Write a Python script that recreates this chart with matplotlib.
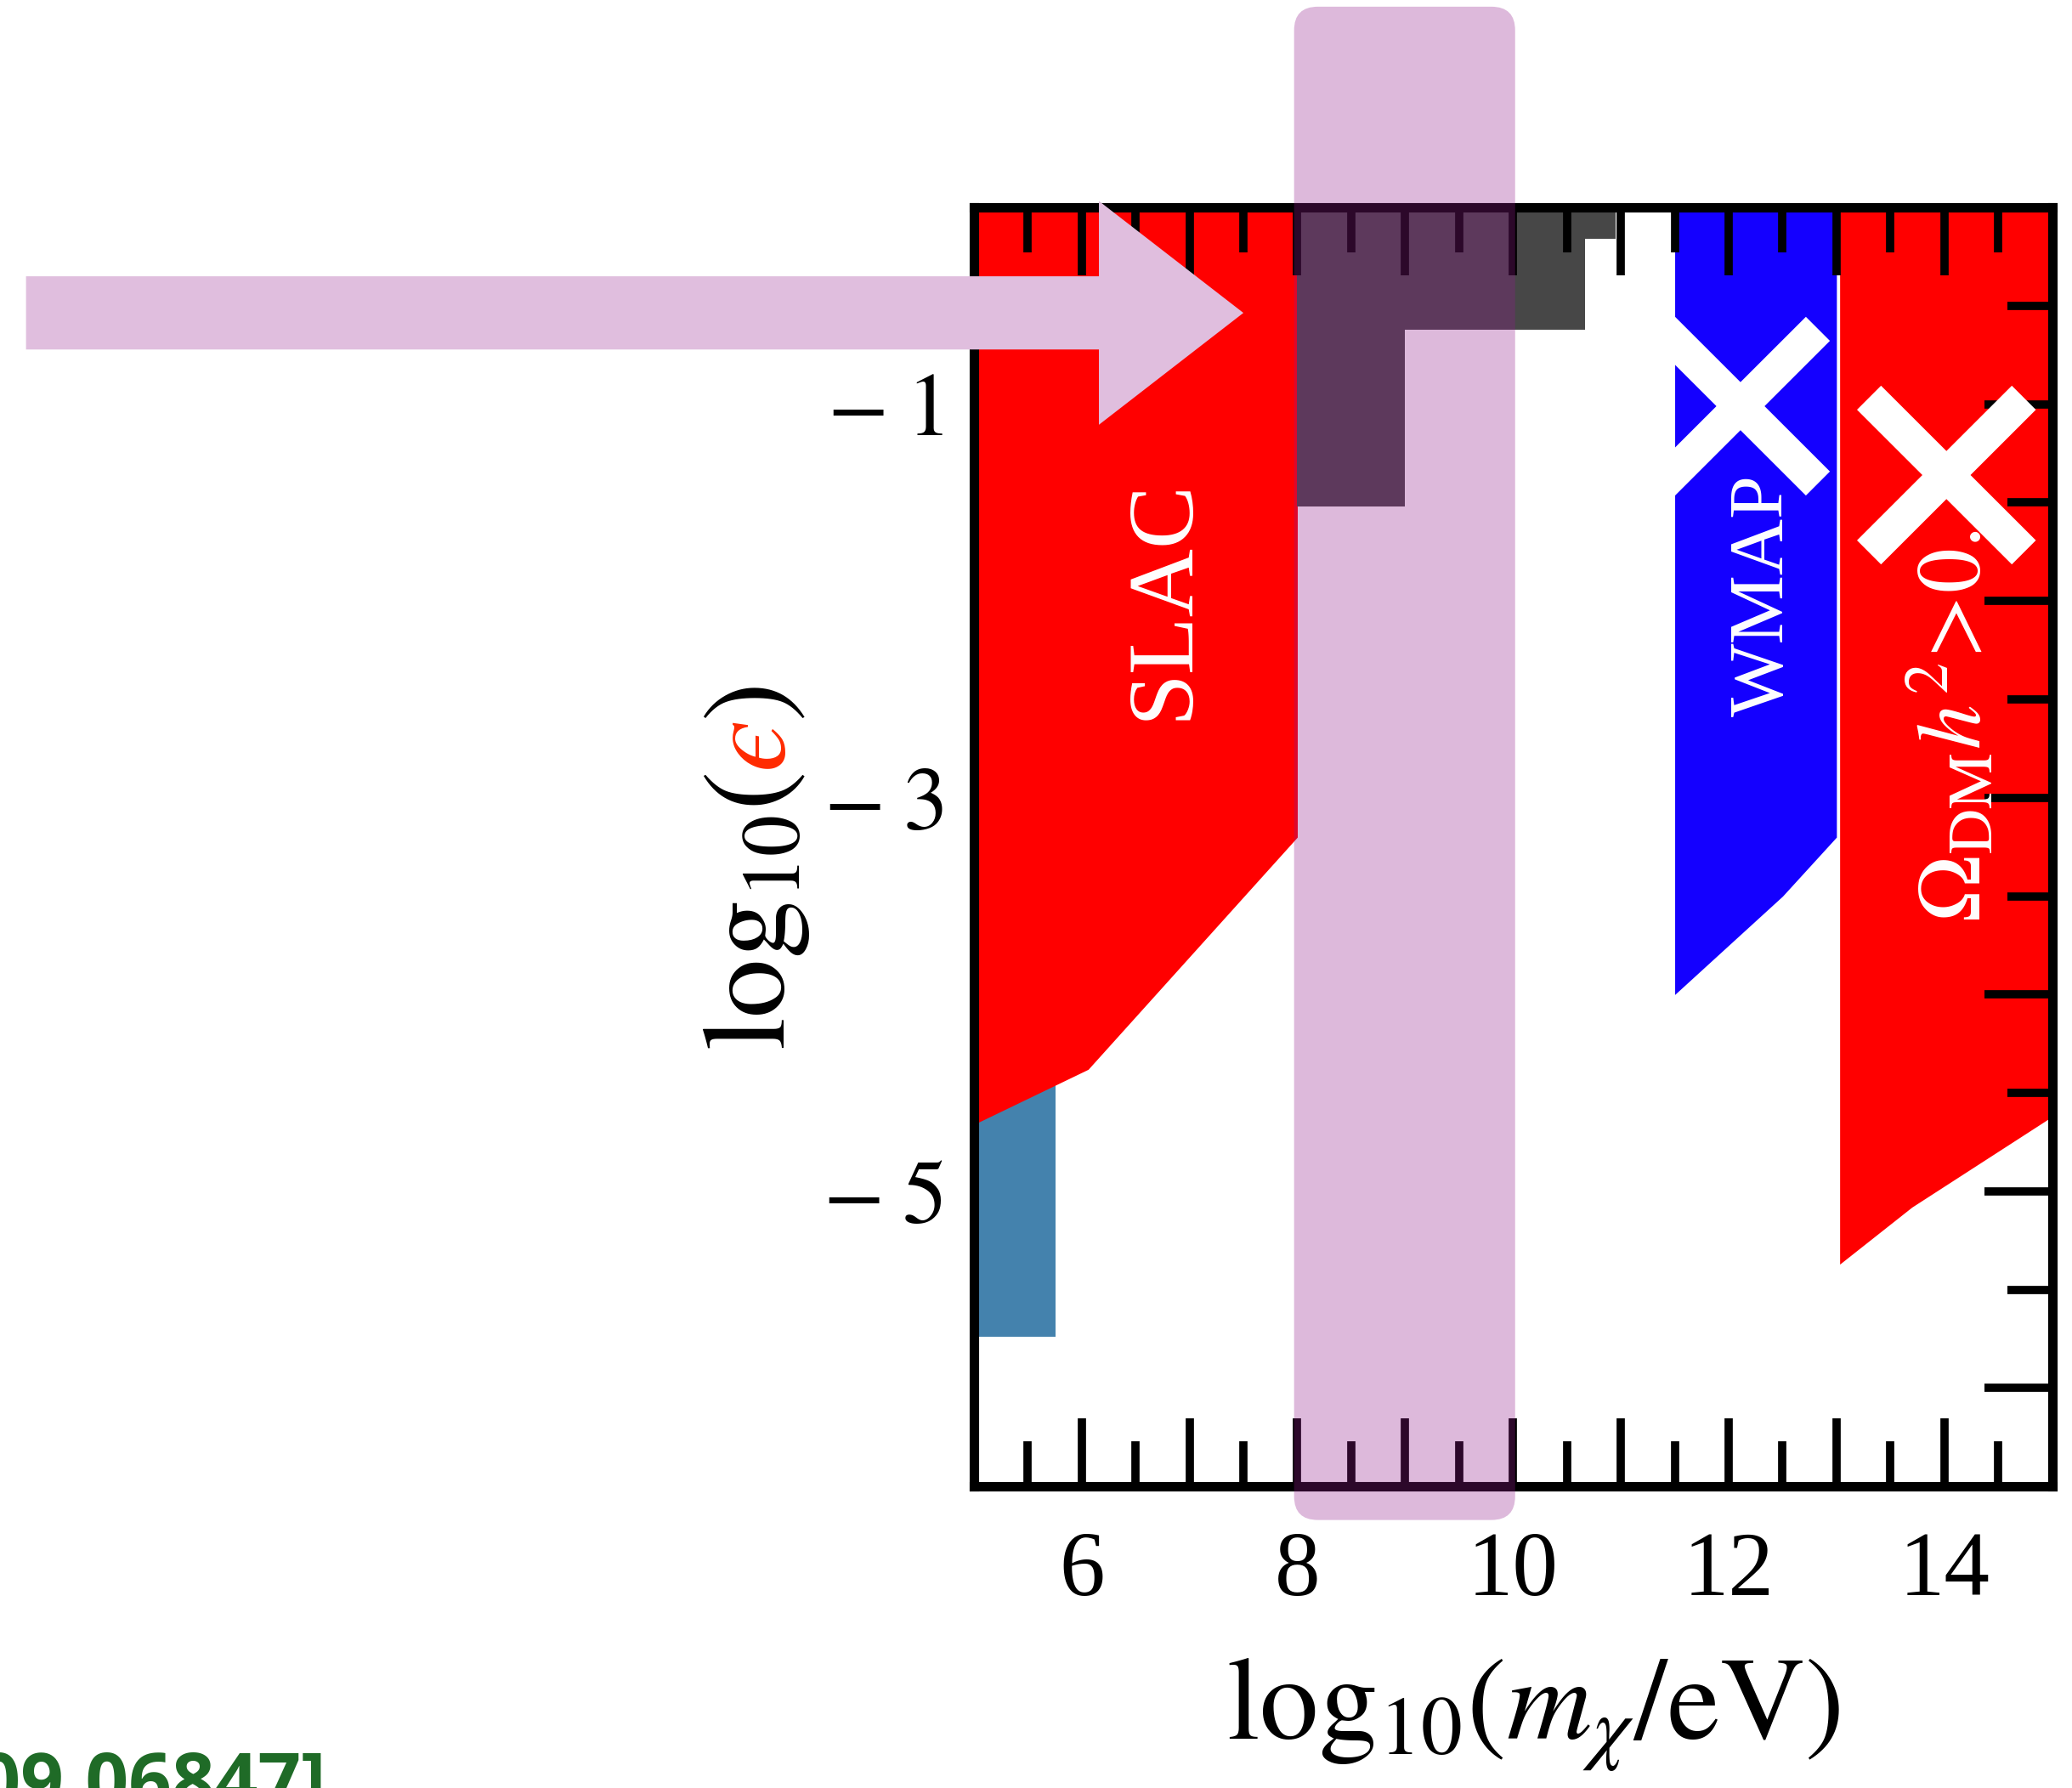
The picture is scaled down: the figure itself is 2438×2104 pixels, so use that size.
import numpy as np
import matplotlib
matplotlib.use("Agg")
import matplotlib.pyplot as plt
from matplotlib.patches import FancyBboxPatch, FancyArrow
from matplotlib.font_manager import FontProperties
from matplotlib.ticker import MultipleLocator, FuncFormatter
from matplotlib import transforms

plt.rcParams['font.family'] = ['Liberation Serif', 'DejaVu Serif']
plt.rcParams['mathtext.fontset'] = 'stix'

# axis labels shown on the ticks
x_tick_values = [6, 8, 10, 12, 14]
x_tick_labels = ["6", "8", "10", "12", "14"]
y_tick_values = [-1, -3, -5]
y_tick_labels = [r"$-\;1$", r"$-\;3$", r"$-\;5$"]

# SLAC beam-dump exclusion: lower edge in log10(eps) vs log10(m/eV)
slac_x = [5.0, 6.06, 8.0]
slac_low = [-4.66, -4.38, -3.2]

# low-mass strip
strip_x = [5.0, 5.76]
strip_low = -5.74
strip_high = -4.4

# collider bound (stepped)
step_x = [8.0, 9.0, 10.67, 10.95]
step_low = [-1.52, -0.62, -0.16, -0.16]

# WMAP bound
wmap_x = [11.5, 12.5, 13.0]
wmap_low = [-4.0, -3.5, -3.2]

# relic abundance bound
omega_x = [13.03, 13.7, 15.0]
omega_low = [-5.37, -5.08, -4.62]

# highlighted mass window
window_lo, window_hi = 7.97, 10.02

# crossed-out bounds (centres)
cross_x = [12.11, 14.02]
cross_y = [-1.01, -1.36]

RED = "#FF0000"
BLUE = "#1400FF"
GRAY = "#474747"
STRIP = "#4482AD"
PINK = "#E0BEDE"
BAND = (146 / 255, 28 / 255, 140 / 255)

fig = plt.figure(figsize=(24.38, 21.04), dpi=100)
ax = fig.add_axes([0.470, 0.1686, 0.5204, 0.7154])
ax.set_xlim(5, 15)
ax.set_ylim(-6.5, 0)

ax.fill_between(strip_x, strip_low, strip_high, color=STRIP, lw=0, zorder=1)
ax.fill_between(slac_x, slac_low, 0, color=RED, lw=0, zorder=1.1)
ax.fill_between(step_x, step_low, 0, step="post", color=GRAY, lw=0, zorder=1.1)
ax.fill_between(wmap_x, wmap_low, 0, color=BLUE, lw=0, zorder=1.1)
ax.fill_between(omega_x, omega_low, 0, color=RED, lw=0, zorder=1.1)

# region names
ax.text(6.98, -1.99, "SLAC", rotation=90, rotation_mode="anchor",
        ha="center", va="baseline", color="white", fontsize=80, zorder=3)
ax.text(12.50, -1.97, "WMAP", rotation=90, rotation_mode="anchor",
        ha="center", va="baseline", color="white", fontsize=66, zorder=3)
ax.text(14.34, -3.63, r"$\Omega_{\rm DM}h^2\!>\!0.$", rotation=90,
        rotation_mode="anchor", ha="left", va="baseline", color="white",
        fontsize=76, zorder=3)

# white crosses
dx, dy = 0.718, 0.393
for cx, cy in zip(cross_x, cross_y):
    for s in (1, -1):
        ax.plot([cx - dx, cx + dx], [cy - s * dy, cy + s * dy], color="white",
                lw=28.8, solid_capstyle="butt", zorder=6, clip_on=False)

# ticks and spines
for sp in ax.spines.values():
    sp.set_linewidth(8)
ax.xaxis.set_major_locator(MultipleLocator(1))
ax.xaxis.set_minor_locator(MultipleLocator(0.5))
ax.yaxis.set_major_locator(MultipleLocator(1))
ax.yaxis.set_minor_locator(MultipleLocator(0.5))
xlab = dict(zip(x_tick_values, x_tick_labels))
ylab = dict(zip(y_tick_values, y_tick_labels))
ax.xaxis.set_major_formatter(FuncFormatter(lambda v, p: xlab.get(int(round(v)), "")))
ax.yaxis.set_major_formatter(FuncFormatter(lambda v, p: ylab.get(int(round(v)), "")))
ax.tick_params(which="both", direction="in", top=True, right=True, left=False,
               bottom=True, width=7, colors="black")
ax.tick_params(which="major", length=57.6)
ax.tick_params(which="minor", length=38.4)
ax.tick_params(axis="x", which="major", labelsize=77, pad=38)
ax.tick_params(axis="y", which="major", labelsize=76, pad=26)

# highlighted window
band = FancyBboxPatch((window_lo, -6.67), window_hi - window_lo, 7.69,
                      boxstyle="round,pad=0,rounding_size=0.22",
                      mutation_aspect=0.547, facecolor=BAND, alpha=0.304,
                      lw=0, clip_on=False, zorder=11)
ax.add_patch(band)

# pointer arrow
arrow = FancyArrow(-3.79, -0.536, 7.50 + 3.79, 0, width=0.372,
                   head_width=1.137, head_length=1.34,
                   length_includes_head=True, color=PINK, lw=0,
                   clip_on=False, zorder=12)
ax.add_patch(arrow)

# x label
fig.text(0.740, 0.0274, r"$\mathrm{log}_{10}(m_\chi/\mathrm{eV})$", ha="center",
         va="baseline", fontsize=100)

# y label with coloured epsilon
renderer = fig.canvas.get_renderer()
prop = FontProperties(size=100)
pieces = [(r"$\mathrm{log}_{10}($", "black"), ("$\u03f5$", "#FF2A00"), (r"$)$", "black")]
offset = 0.0
for s, c in pieces:
    tr = transforms.offset_copy(fig.transFigure, fig=fig, x=0, y=offset, units="dots")
    fig.text(0.3786, 0.4125, s, rotation=90, rotation_mode="anchor", ha="left",
             va="baseline", color=c, fontsize=100, transform=tr)
    w, h, d = renderer.get_text_width_height_descent(s, prop, ismath=True)
    offset += w

# reference tag
fig.text(0.1575, -0.011, "[arXiv:2009.06847]", ha="right", va="baseline",
         fontsize=64, fontweight="bold", family="Open Sans", color="#1F6B27")

fig.savefig("out.png", dpi=100)
